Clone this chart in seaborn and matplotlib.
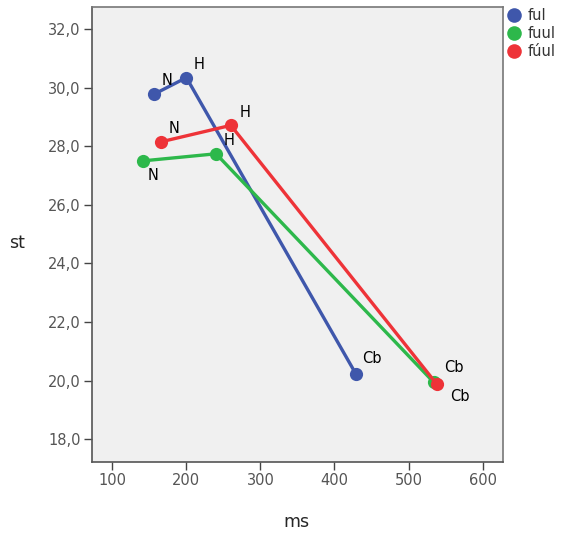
import numpy as np
import pandas as pd
import matplotlib
matplotlib.use("Agg")
import matplotlib.pyplot as plt
from matplotlib.lines import Line2D
import seaborn as sns

# Measurements per word form: N, H, Cb points
words = ["ful", "fuul", "fúul"]
points = ["N", "H", "Cb"]
ms_ful = [156, 200, 429]
st_ful = [29.77, 30.34, 20.22]
ms_fuul = [142, 240, 534]
st_fuul = [27.50, 27.74, 19.94]
ms_fuul_acc = [166, 260, 538]
st_fuul_acc = [28.15, 28.71, 19.88]

colors = ["#3f57ab", "#2db84b", "#ee3338"]

rows = []
for w, xs, ys in zip(words, [ms_ful, ms_fuul, ms_fuul_acc], [st_ful, st_fuul, st_fuul_acc]):
    for p, x, y in zip(points, xs, ys):
        rows.append({"word": w, "point": p, "ms": x, "st": y})
df = pd.DataFrame(rows)

sns.set_style("white")
plt.rcParams["font.family"] = ["DejaVu Sans"]

fig = plt.figure(figsize=(5.63, 5.33), dpi=100)
ax = fig.add_axes([0.1634, 0.1338, 0.7306, 0.8536])
ax.set_facecolor("#f0f0f0")

sns.lineplot(data=df, x="ms", y="st", hue="word", hue_order=words,
             palette=colors, sort=False, estimator=None, marker="o",
             markersize=9.5, markeredgewidth=0, linewidth=2.4, ax=ax, legend=False)

# point label offsets (pixels, centre of text relative to the point)
offsets = {
    ("ful", "N"): (13, 14), ("ful", "H"): (13, 13), ("ful", "Cb"): (16, 16),
    ("fuul", "N"): (10, -15), ("fuul", "H"): (13, 13), ("fuul", "Cb"): (20, 15),
    ("fúul", "N"): (13, 13), ("fúul", "H"): (14, 13), ("fúul", "Cb"): (23, -12),
}
for _, r in df.iterrows():
    dx, dy = offsets[(r["word"], r["point"])]
    ax.annotate(r["point"], (r["ms"], r["st"]), xytext=(dx * 0.72, dy * 0.72),
                textcoords="offset points", fontsize=10.5, color="black",
                ha="center", va="center")

ax.set_xlim(72.5, 628)
ax.set_ylim(17.23, 32.76)
ax.set_xticks([100, 200, 300, 400, 500, 600])
yt = [18, 20, 22, 24, 26, 28, 30, 32]
ax.set_yticks(yt)
ax.set_yticklabels([f"{v:.1f}".replace(".", ",") for v in yt])
ax.tick_params(axis="both", which="both", direction="out", length=6, width=1,
               color="#444444", labelcolor="#555555", labelsize=10.5, pad=2,
               left=True, bottom=True)
for s in ["left", "bottom"]:
    ax.spines[s].set_color("#555555")
    ax.spines[s].set_linewidth(1.2)
for s in ["top", "right"]:
    ax.spines[s].set_color("#777777")
    ax.spines[s].set_linewidth(1.2)

ax.set_xlabel("")
ax.set_ylabel("")
fig.text(296 / 563, 1 - 522 / 533, "ms", fontsize=12.5, ha="center", va="center")
fig.text(9 / 563, 1 - 243 / 533, "st", fontsize=12.5, ha="left", va="center")

# legend placed outside the plot area
handles = [Line2D([], [], marker="o", linestyle="none", color=c, markersize=10.5,
                  markeredgewidth=0) for c in colors]
fig.legend(handles, words, loc="upper left", bbox_to_anchor=(505 / 563, 1 - 7 / 533),
           frameon=False, fontsize=10.5, handletextpad=0.45, labelspacing=0.2,
           handlelength=1.0, borderaxespad=0, borderpad=0.1, labelcolor="#333333")

fig.savefig("out.png", dpi=100)
